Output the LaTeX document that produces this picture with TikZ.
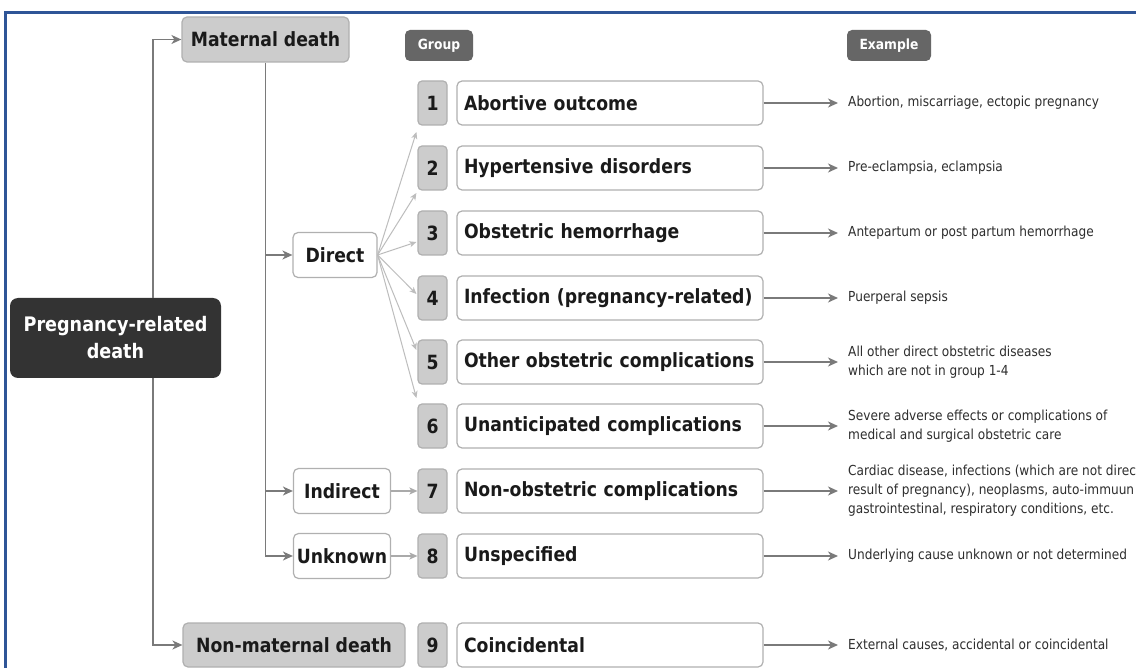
\documentclass[tikz,border=0pt]{standalone}
\usepackage{fontspec}
\setmainfont{DejaVu Sans}[FakeStretch=0.88]
\usetikzlibrary{arrows.meta,calc}
\definecolor{frameblue}{HTML}{2F5597}
\definecolor{boxline}{HTML}{B0B0B0}
\definecolor{lightfill}{HTML}{CCCCCC}
\definecolor{darkfill}{HTML}{333333}
\definecolor{tagfill}{HTML}{666666}
\definecolor{conn}{HTML}{7A7A7A}
\definecolor{fan}{HTML}{BDBDBD}
\definecolor{fantwo}{HTML}{AAAAAA}
\definecolor{extext}{HTML}{2E2E2E}
\definecolor{labtext}{HTML}{1A1A1A}
\begin{document}
\begin{tikzpicture}[x=1pt,y=-1pt,
  bigtxt/.style={font=\fontsize{19.6}{24}\selectfont\bfseries, text=labtext},
  numbox/.style={draw=boxline, line width=1.2pt, fill=lightfill, rounded corners=4pt, minimum width=29pt, minimum height=44pt, inner sep=0pt, bigtxt},
  labbox/.style={draw=boxline, line width=1.2pt, fill=white, rounded corners=5pt, minimum height=44pt, text width=292pt, inner xsep=7pt, inner ysep=0pt, align=left, bigtxt},
  catbox/.style={draw=boxline, line width=1.2pt, fill=white, rounded corners=5pt, minimum height=45pt, inner sep=0pt, bigtxt},
  greybox/.style={draw=boxline, line width=1.2pt, fill=lightfill, rounded corners=5pt, minimum height=45pt, inner sep=0pt, bigtxt},
  tagbox/.style={fill=tagfill, rounded corners=5pt, minimum height=31pt, inner sep=0pt, text=white, font=\fontsize{14}{16}\selectfont\bfseries},
  extxt/.style={anchor=west, inner xsep=10pt, inner ysep=0pt, align=left, text=extext, font=\fontsize{13.8}{19}\selectfont},
  mainarrow/.style={draw=conn, line width=1.6pt, -{Stealth[length=10pt,width=9pt,inset=3pt]}},
  fanarrow/.style={draw=fan, line width=1pt, -{Stealth[length=7pt,width=6pt,inset=2pt]}},
  sidearrow/.style={draw=fantwo, line width=1.2pt, -{Stealth[length=8pt,width=7pt,inset=2pt]}}
]
\useasboundingbox (0,0) rectangle (1136,668);
\fill[white] (0,0) rectangle (1136,668);
\draw[frameblue, line width=3pt] (5,670) -- (5,13) -- (1138,13);

% top level
\node[greybox, minimum width=167pt] (mat) at (265.5,39.5) {Maternal death};
\node[tagbox, minimum width=68pt] (tg) at (439,45.5) {Group};
\node[tagbox, minimum width=84pt] (te) at (889,45.5) {Example};
\node[fill=darkfill, rounded corners=8pt, minimum width=211pt, minimum height=80pt, inner sep=0pt, align=center, text=white, font=\fontsize{20}{27}\selectfont\bfseries] (preg) at (115.5,338) {Pregnancy-related\\death};
\node[catbox, minimum width=84pt] (dir) at (335,255) {Direct};
\node[catbox, minimum width=97pt] (ind) at (342,491) {Indirect};
\node[catbox, minimum width=97pt] (unk) at (342,556) {Unknown};
\node[greybox, minimum width=222pt, minimum height=44pt] (nonmat) at (294,645) {Non-maternal death};

% groups
\foreach \i/\y/\lab in {1/103/{Abortive outcome},2/168/{Hypertensive disorders},3/233/{Obstetric hemorrhage},4/298/{Infection (pregnancy-related)},5/362/{Other obstetric complications},6/426/{Unanticipated complications},7/491/{Non-obstetric complications},8/556/{Unspecified},9/645/{Coincidental}}{
  \node[numbox] (n\i) at (432.5,\y) {\i};
  \node[labbox] (l\i) at (610,\y) {\mbox{\lab}};
}

% examples
\node[extxt] (e1) at (838,103) {Abortion, miscarriage, ectopic pregnancy};
\node[extxt] (e2) at (838,168) {Pre-eclampsia, eclampsia};
\node[extxt] (e3) at (838,233) {Antepartum or post partum hemorrhage};
\node[extxt] (e4) at (838,298) {Puerperal sepsis};
\node[extxt] (e5) at (838,362) {All other direct obstetric diseases\\which are not in group 1-4};
\node[extxt] (e6) at (838,426) {Severe adverse effects or complications of\\medical and surgical obstetric care};
\node[extxt] (e7) at (838,491) {Cardiac disease, infections (which are not direc\\result of pregnancy), neoplasms, auto-immuun\\gastrointestinal, respiratory conditions, etc.};
\node[extxt] (e8) at (838,556) {Underlying cause unknown or not determined};
\node[extxt] (e9) at (838,645) {External causes, accidental or coincidental};

\foreach \i in {1,...,9}{
  \draw[mainarrow] (l\i.east) -- (e\i.west);
}

% trunks
\coordinate (tr1) at (153,0);
\draw[mainarrow] (preg.north -| tr1) |- (mat.west);
\draw[mainarrow] (preg.south -| tr1) |- (nonmat.west);
\draw[mainarrow] (mat.south) |- (unk.west);
\draw[mainarrow] (mat.south |- dir.west) -- (dir.west);
\draw[mainarrow] (mat.south |- ind.west) -- (ind.west);

% fan from Direct
\foreach \i/\d in {1/29,2/25,3/9,4/-4,5/-12,6/-28}{
  \draw[fanarrow] (dir.east) -- ($(n\i.west)+(-1,\d)$);
}
\draw[sidearrow] (ind.east) -- (n7.west);
\draw[sidearrow] (unk.east) -- (n8.west);
\end{tikzpicture}
\end{document}
